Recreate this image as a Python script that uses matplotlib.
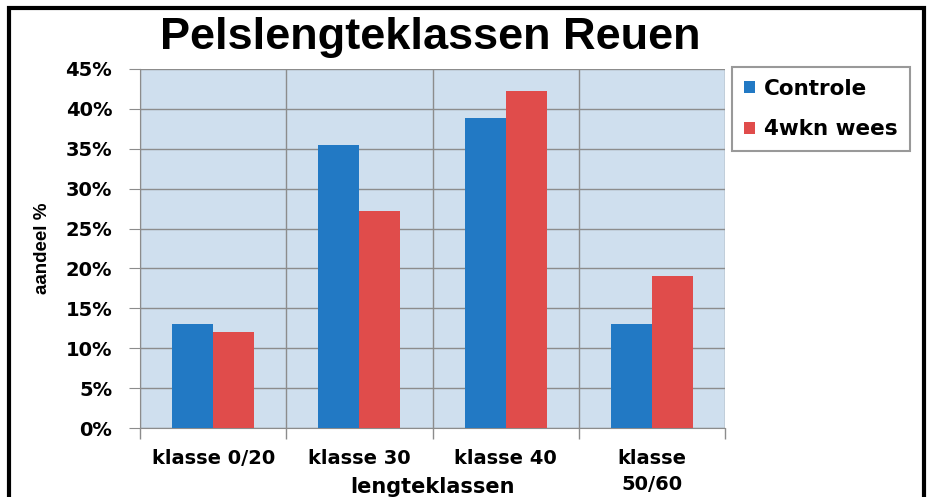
import matplotlib.pyplot as plt
import numpy as np
from matplotlib.patches import Rectangle

plt.rcParams['font.family'] = ['DejaVu Sans']
plt.rcParams['font.weight'] = 'bold'

categories = ['klasse 0/20', 'klasse 30', 'klasse 40', 'klasse\n50/60']
controle = [13.0, 35.5, 38.8, 13.0]
wees = [12.0, 27.2, 42.2, 19.0]
series_names = ['Controle', '4wkn wees']
yticks = [0, 5, 10, 15, 20, 25, 30, 35, 40, 45]

blue = '#2279c4'
red = '#e04c4b'
bg = '#cfdfee'
grid = '#8c8c8c'

fig = plt.figure(figsize=(9.31, 4.97), dpi=100)
ax = fig.add_axes([140 / 931, 1 - 428 / 497, 585 / 931, 359 / 497])
ax.set_facecolor(bg)

x = np.arange(len(categories))
w = 0.28
ax.bar(x - w / 2, controle, w, color=blue, label=series_names[0], zorder=3)
ax.bar(x + w / 2, wees, w, color=red, label=series_names[1], zorder=3)

ax.set_xlim(-0.5, len(categories) - 0.5)
ax.set_ylim(0, 45)
ax.set_yticks(yticks)
ax.set_yticklabels([f'{t}%' for t in yticks], fontsize=14, fontweight='bold')
ax.set_xticks(x)
ax.set_xticklabels(categories, fontsize=14, fontweight='bold', linespacing=1.45)
ax.tick_params(axis='x', length=0, pad=15)
ax.tick_params(axis='y', length=8, color=grid, pad=12)

# category boundaries as gridlines with ticks below the axis
bounds = np.arange(len(categories) + 1) - 0.5
ax.set_xticks(bounds, minor=True)
ax.tick_params(axis='x', which='minor', length=8, color=grid, width=1)
ax.grid(axis='x', which='minor', color=grid, linewidth=1, zorder=1)
ax.grid(axis='y', which='major', color=grid, linewidth=1, zorder=1)

for side in ['top', 'right']:
    ax.spines[side].set_visible(False)
for side in ['left', 'bottom']:
    ax.spines[side].set_color(grid)

ax.set_ylabel('aandeel %', fontsize=13.5, fontweight='bold',
              family='Liberation Sans')
ax.yaxis.set_label_coords((42 - 140) / 585, 0.5)
ax.yaxis.label.set_va('center')
ax.set_xlabel('lengteklassen', fontsize=15, fontweight='bold')
ax.xaxis.set_label_coords(0.5, (428 - 487) / 359)
ax.xaxis.label.set_va('center')

fig.text(430 / 931, 1 - 38 / 497, 'Pelslengteklassen Reuen', fontsize=32.5,
         fontweight='bold', ha='center', va='center', family='Liberation Sans')

leg = ax.legend(loc='upper left', bbox_to_anchor=(732 / 931, 1 - 67 / 497),
                bbox_transform=fig.transFigure, fontsize=15.5, frameon=True,
                fancybox=False, edgecolor='#808080', handlelength=0.5,
                handleheight=0.5, labelspacing=0.95, borderpad=0.55,
                handletextpad=0.45, borderaxespad=0)
leg.get_frame().set_linewidth(1.5)
for t in leg.get_texts():
    t.set_fontweight('bold')

# outer black frame
fig.patches.append(Rectangle((9 / 931, -0.05), 915 / 931, 1.05 - 8 / 497,
                             transform=fig.transFigure, fill=False,
                             edgecolor='black', linewidth=3))

fig.savefig('out.png', dpi=100)
